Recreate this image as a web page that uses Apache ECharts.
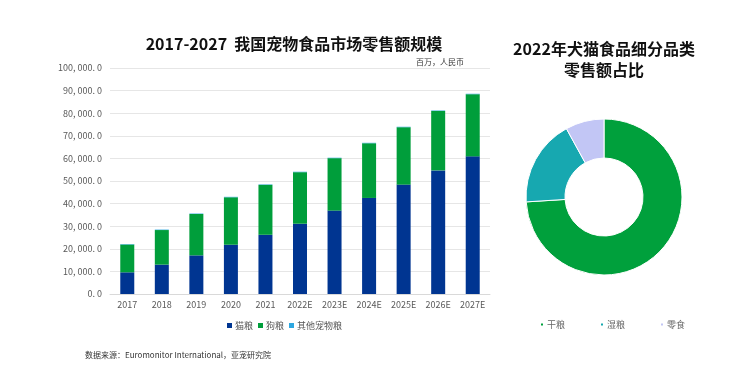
<!DOCTYPE html>
<html><head><meta charset="utf-8">
<script src="https://cdn.jsdelivr.net/npm/echarts@6/dist/echarts.min.js"></script>
<style>html,body{margin:0;padding:0;background:#fff}#c{width:751px;height:383px}</style>
</head><body><div id="c"></div>
<script>
var years = ['2017','2018','2019','2020','2021','2022E','2023E','2024E','2025E','2026E','2027E'];
var catFood = [9600, 13000, 17100, 21800, 26200, 31100, 36900, 42500, 48400, 54700, 60900];
var dogFood = [12300, 15300, 18300, 21000, 22100, 22800, 23200, 24200, 25400, 26300, 27500];
var otherFood = [200, 200, 200, 200, 200, 200, 200, 200, 200, 200, 200];
var pieNames = ['干粮','湿粮','零食'];
var pieValues = [74, 18, 8];

var chart = echarts.init(document.getElementById('c'));
var font = "'Noto Sans CJK SC', 'Liberation Sans', sans-serif";
function fmt(v){
  var s = Math.round(v).toString().replace(/\B(?=(\d{3})+(?!\d))/g, ', ');
  return s + '. 0';
}
chart.setOption({
  animation:false,
  textStyle:{fontFamily:font},
  title:[
    {text:'2017-2027  我国宠物食品市场零售额规模', left:289, top:31, textAlign:'center',
     textStyle:{fontSize:16, fontWeight:'bold', color:'#111', fontFamily:font}},
    {text:'百万，人民币', left:411, top:53, textStyle:{fontSize:8, fontWeight:'normal', color:'#333', fontFamily:font}},
    {text:'2022年犬猫食品细分品类\n零售额占比', left:599, top:33, textAlign:'center',
     textStyle:{fontSize:16, fontWeight:'bold', color:'#111', lineHeight:21, fontFamily:font}},
    {text:'数据来源：Euromonitor International，亚宠研究院', left:80, top:346,
     textStyle:{fontSize:8, fontWeight:'normal', color:'#333', fontFamily:font}}
  ],
  legend:[
    {data:['猫粮','狗粮','其他宠物粮'], left:222, top:316, itemWidth:5, itemHeight:5, itemGap:5,
     icon:'rect', textStyle:{fontSize:9, color:'#555', padding:[0,0,0,-2]}},
    {data:pieNames, top:315, left:534, itemWidth:4, itemHeight:4, itemGap:34, icon:'rect',
     textStyle:{fontSize:9, color:'#666', padding:[0,0,0,-2]}}
  ],
  grid:{left:110, right:261, top:68, bottom:89},
  xAxis:{type:'category', data:years,
    axisLine:{lineStyle:{color:'#d9d9d9'}}, axisTick:{show:false},
    axisLabel:{fontSize:9, color:'#595959', margin:6, interval:0}},
  yAxis:{type:'value', min:0, max:100000, interval:10000,
    axisLabel:{fontSize:9, color:'#595959', formatter:fmt, margin:8},
    splitLine:{lineStyle:{color:'#e6e6e6'}}, axisLine:{show:false}, axisTick:{show:false}},
  series:[
    {name:'猫粮', type:'bar', stack:'a', data:catFood, barWidth:14, itemStyle:{color:'#003591'}},
    {name:'狗粮', type:'bar', stack:'a', data:dogFood, itemStyle:{color:'#009E3B'}},
    {name:'其他宠物粮', type:'bar', stack:'a', data:otherFood, itemStyle:{color:'#2EA7E0'}},
    {name:'pie', type:'pie', center:[604,197], radius:[39,78], startAngle:90, clockwise:true,
     label:{show:false}, labelLine:{show:false},
     itemStyle:{borderColor:'#fff', borderWidth:1},
     data:pieNames.map(function(n,i){return {name:n, value:pieValues[i],
       itemStyle:{color:['#00A03C','#17A8B0','#C2C6F5'][i]}};})}
  ]
});
</script></body></html>
